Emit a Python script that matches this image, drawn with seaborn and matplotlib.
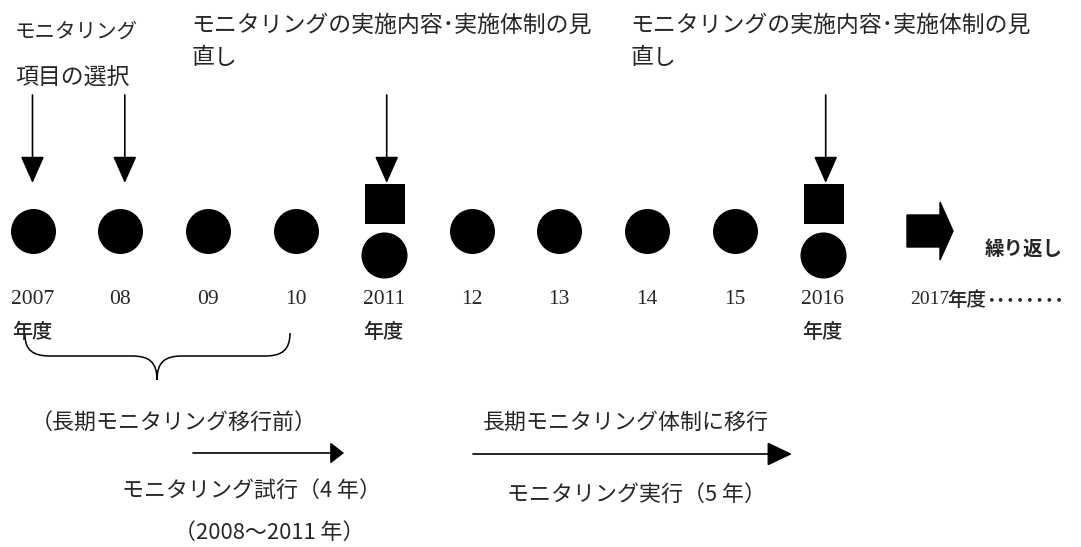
import matplotlib
matplotlib.use('Agg')
import matplotlib.pyplot as plt
from matplotlib.path import Path
from matplotlib.patches import PathPatch, Polygon
import numpy as np
import pandas as pd
import seaborn as sns

# timeline data
years = ['2007', '08', '09', '10', '2011', '12', '13', '14', '15', '2016']
review_years = ['2011', '2016']          # square + lowered circle
nendo_years = ['2007', '2011', '2016']   # "年度" under the label
selection_years = ['2007', '08']         # "モニタリング項目の選択" arrows

selection_label = ['モニタリング', '項目の選択']
review_label = ['モニタリングの実施内容･実施体制の見', '直し']
repeat_label = '繰り返し'
next_year = '2017'
next_unit = '年度'
next_dots = '････････'
before_label = '（長期モニタリング移行前）'
trial_label = 'モニタリング試行（4 年）'
trial_period = '（2008～2011 年）'
long_label = '長期モニタリング体制に移行'
run_label = 'モニタリング実行（5 年）'

JP = 'Noto Sans CJK JP'
SERIF = ['Liberation Serif', 'Noto Sans CJK JP']

sns.set_theme(style='white')
plt.rcParams['font.family'] = [JP, 'DejaVu Sans']

fig = plt.figure(figsize=(10.81, 5.47), dpi=100)
ax = fig.add_axes([0, 0, 1, 1])
ax.set_xlim(0, 1081)
ax.set_ylim(547, 0)
ax.axis('off')

# pixel layout of the timeline
x0, step = 32.5, 87.8
df = pd.DataFrame({'year': years})
df['x'] = x0 + step * np.arange(len(years))
df['review'] = df['year'].isin(review_years)
xpos = dict(zip(df['year'], df['x']))

normal = df[~df['review']]
review = df[df['review']]

sns.scatterplot(x=normal['x'], y=[231] * len(normal), s=1050, marker='o',
                color='black', linewidth=0, ax=ax, legend=False)
sns.scatterplot(x=review['x'], y=[255] * len(review), s=1100, marker='o',
                color='black', linewidth=0, ax=ax, legend=False)
sns.scatterplot(x=review['x'] + 1.5, y=[203.5] * len(review), s=840, marker='s',
                color='black', linewidth=0, ax=ax, legend=False)

for yr, x in xpos.items():
    ax.text(x, 300, yr, family=SERIF, fontsize=15.5, ha='center', va='center')
for yr in nendo_years:
    ax.text(xpos[yr], 332, '年度', fontsize=14.5, fontweight='medium',
            ha='center', va='center')


def down_arrow(x):
    ax.annotate('', xy=(x, 183), xytext=(x, 95),
                arrowprops=dict(arrowstyle='-|>,head_length=1.4,head_width=0.62',
                                lw=1.2, color='black', shrinkA=0, shrinkB=0))


# top annotations
ax.text(15, 32, selection_label[0], fontsize=14.8, va='center')
ax.text(15, 77, selection_label[1], fontsize=16.5, va='center')
for yr in selection_years:
    down_arrow(xpos[yr] + (0 if yr == '2007' else 4.5))

for yr in review_years:
    left = xpos[yr] - 192
    ax.text(left, 25, review_label[0], fontsize=16.5, va='center')
    ax.text(left, 58, review_label[1], fontsize=16.5, va='center')
    down_arrow(xpos[yr] + 3)

# big "continue" arrow
ax.add_patch(Polygon([(907, 215), (940, 215), (940, 202), (953, 231),
                      (940, 260), (940, 247), (907, 247)],
                     closed=True, color='black'))
ax.text(985, 249, repeat_label, fontsize=14, fontweight='bold', va='center')
ax.text(910, 300, next_year, family=SERIF, fontsize=14, va='center')
ax.text(947, 300, next_unit, fontsize=14, fontweight='medium', va='center')
ax.text(986, 301, next_dots, fontsize=14, fontweight='bold', va='center')

# curly brace under 2007-10
verts = [(25, 335), (25, 350), (33, 356), (50, 356),
         (132, 356),
         (149, 356), (157, 362), (157, 380),
         (157, 362), (165, 356), (182, 356),
         (265, 356),
         (282, 356), (290, 350), (290, 333)]
codes = [Path.MOVETO, Path.CURVE4, Path.CURVE4, Path.CURVE4,
         Path.LINETO,
         Path.CURVE4, Path.CURVE4, Path.CURVE4,
         Path.CURVE4, Path.CURVE4, Path.CURVE4,
         Path.LINETO,
         Path.CURVE4, Path.CURVE4, Path.CURVE4]
ax.add_patch(PathPatch(Path(verts, codes), fill=False, lw=1.1, color='black'))

# bottom phase descriptions
ax.text(31, 423, before_label, fontsize=15.8, va='center')
ax.annotate('', xy=(344, 453), xytext=(193, 453),
            arrowprops=dict(arrowstyle='-|>,head_length=0.7,head_width=0.55',
                            lw=1.2, color='black', shrinkA=0, shrinkB=0))
ax.text(122, 491, trial_label, fontsize=15.8, va='center')
ax.text(174, 533, trial_period, fontsize=15.8, va='center')

ax.text(483, 423, long_label, fontsize=15.8, va='center')
ax.annotate('', xy=(792, 454), xytext=(473, 454),
            arrowprops=dict(arrowstyle='-|>,head_length=1.3,head_width=0.62',
                            lw=1.2, color='black', shrinkA=0, shrinkB=0))
ax.text(507, 495, run_label, fontsize=15.8, va='center')

fig.savefig('out.png', dpi=100, facecolor='white')
